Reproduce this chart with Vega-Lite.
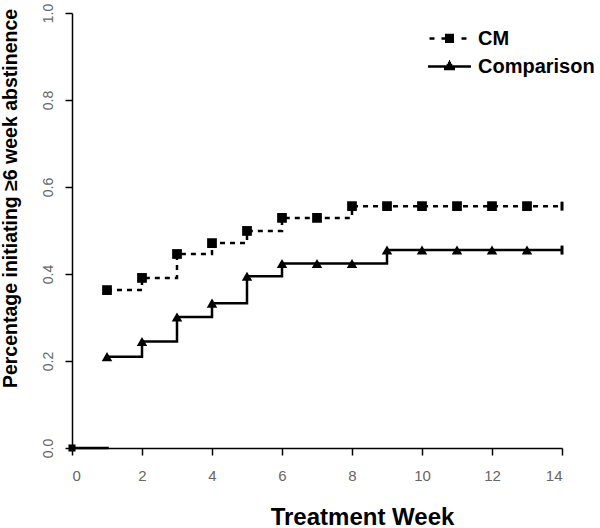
{
  "$schema": "https://vega.github.io/schema/vega-lite/v6.json",
  "width": 490,
  "height": 435,
  "autosize": {"type": "none"},
  "padding": {"left": 72, "top": 13, "right": 38, "bottom": 80},
  "background": "white",
  "config": {
    "view": {"stroke": null},
    "axis": {
      "grid": false,
      "domainColor": "black",
      "tickColor": "black",
      "domainWidth": 1.5,
      "tickWidth": 1.5,
      "labelFont": "Liberation Sans",
      "labelColor": "#666666",
      "titleFont": "Liberation Sans",
      "titleColor": "black"
    }
  },
  "datasets": {
    "main": [
      {"series": "CM", "week": 1, "value": 0.363},
      {"series": "CM", "week": 2, "value": 0.391},
      {"series": "CM", "week": 3, "value": 0.446},
      {"series": "CM", "week": 4, "value": 0.471},
      {"series": "CM", "week": 5, "value": 0.499},
      {"series": "CM", "week": 6, "value": 0.529},
      {"series": "CM", "week": 7, "value": 0.529},
      {"series": "CM", "week": 8, "value": 0.556},
      {"series": "CM", "week": 9, "value": 0.556},
      {"series": "CM", "week": 10, "value": 0.556},
      {"series": "CM", "week": 11, "value": 0.556},
      {"series": "CM", "week": 12, "value": 0.556},
      {"series": "CM", "week": 13, "value": 0.556},
      {"series": "CM", "week": 14, "value": 0.556},
      {"series": "Comparison", "week": 1, "value": 0.21},
      {"series": "Comparison", "week": 2, "value": 0.245},
      {"series": "Comparison", "week": 3, "value": 0.301},
      {"series": "Comparison", "week": 4, "value": 0.333},
      {"series": "Comparison", "week": 5, "value": 0.395},
      {"series": "Comparison", "week": 6, "value": 0.424},
      {"series": "Comparison", "week": 7, "value": 0.424},
      {"series": "Comparison", "week": 8, "value": 0.424},
      {"series": "Comparison", "week": 9, "value": 0.455},
      {"series": "Comparison", "week": 10, "value": 0.455},
      {"series": "Comparison", "week": 11, "value": 0.455},
      {"series": "Comparison", "week": 12, "value": 0.455},
      {"series": "Comparison", "week": 13, "value": 0.455},
      {"series": "Comparison", "week": 14, "value": 0.455}
    ],
    "start": [
      {"week": 0, "value": 0},
      {"week": 1.05, "value": 0}
    ]
  },
  "layer": [
    {
      "data": {"name": "start"},
      "mark": {"type": "line", "color": "black", "strokeWidth": 2.5},
      "encoding": {
        "x": {
          "field": "week",
          "type": "quantitative",
          "scale": {"domain": [0, 14], "nice": false, "zero": false},
          "axis": {
            "values": [0, 2, 4, 6, 8, 10, 12, 14],
            "tickSize": 7,
            "labelPadding": 13,
            "labelFontSize": 15,
            "title": "Treatment Week",
            "titleFontSize": 24,
            "titleFontWeight": "bold",
            "titleX": 290,
            "titleY": 76,
            "titleAlign": "center",
            "titleBaseline": "alphabetic"
          }
        },
        "y": {
          "field": "value",
          "type": "quantitative",
          "scale": {"domain": [0, 1], "nice": false},
          "axis": {
            "values": [0, 0.2, 0.4, 0.6, 0.8, 1],
            "format": ".1f",
            "tickSize": 7,
            "labelAngle": -90,
            "labelAlign": "center",
            "labelBaseline": "middle",
            "labelPadding": 17,
            "labelFontSize": 14,
            "title": "Percentage initiating ≥6 week abstinence",
            "titleFontSize": 19.5,
            "titleFontWeight": "bold",
            "titleAngle": -90,
            "titleX": -62,
            "titleY": 185,
            "titleAlign": "center",
            "titleBaseline": "middle"
          }
        }
      }
    },
    {
      "data": {"name": "start"},
      "transform": [{"filter": "datum.week == 0"}],
      "mark": {"type": "square", "color": "black", "filled": true, "size": 50, "opacity": 1},
      "encoding": {
        "x": {"field": "week", "type": "quantitative"},
        "y": {"field": "value", "type": "quantitative"}
      }
    },
    {
      "data": {"name": "main"},
      "transform": [{"filter": "datum.series == 'CM'"}],
      "mark": {"type": "line", "interpolate": "step-after", "color": "black", "strokeWidth": 2.5, "strokeDash": [5, 5]},
      "encoding": {
        "x": {"field": "week", "type": "quantitative"},
        "y": {"field": "value", "type": "quantitative"}
      }
    },
    {
      "data": {"name": "main"},
      "transform": [{"filter": "datum.series == 'Comparison'"}],
      "mark": {"type": "line", "interpolate": "step-after", "color": "black", "strokeWidth": 2.5},
      "encoding": {
        "x": {"field": "week", "type": "quantitative"},
        "y": {"field": "value", "type": "quantitative"}
      }
    },
    {
      "data": {"name": "main"},
      "transform": [{"filter": "datum.series == 'CM' && datum.week < 14"}],
      "mark": {"type": "point", "shape": "square", "filled": true, "color": "black", "opacity": 1, "size": 95},
      "encoding": {
        "x": {"field": "week", "type": "quantitative"},
        "y": {"field": "value", "type": "quantitative"}
      }
    },
    {
      "data": {"name": "main"},
      "transform": [{"filter": "datum.series == 'Comparison' && datum.week < 14"}],
      "mark": {"type": "point", "shape": "triangle-up", "filled": true, "color": "black", "opacity": 1, "size": 110},
      "encoding": {
        "x": {"field": "week", "type": "quantitative"},
        "y": {"field": "value", "type": "quantitative"}
      }
    },
    {
      "data": {"name": "main"},
      "transform": [{"filter": "datum.week == 14"}],
      "mark": {"type": "tick", "orient": "vertical", "color": "black", "size": 9, "thickness": 3, "opacity": 1},
      "encoding": {
        "x": {"field": "week", "type": "quantitative"},
        "y": {"field": "value", "type": "quantitative"}
      }
    },
    {
      "data": {"name": "main"},
      "transform": [{"filter": "datum.week > 100"}],
      "mark": {"type": "point", "filled": false, "color": "black", "opacity": 1, "strokeWidth": 2.5},
      "encoding": {
        "x": {"field": "week", "type": "quantitative"},
        "y": {"field": "value", "type": "quantitative"},
        "shape": {
          "field": "series",
          "type": "nominal",
          "scale": {
            "domain": ["CM", "Comparison"],
            "range": [
              "M-2,0H-1.5M-0.8,0H-0.45M-0.45,-0.34H0.45M-0.45,-0.12H0.45M-0.45,0.11H0.45M-0.45,0.33H0.45M1.2,0H1.7",
              "M-2.15,0H2.15M-0.55,0.25H0.55M-0.42,0.05H0.42M-0.28,-0.15H0.28M-0.15,-0.35H0.15M-0.05,-0.52H0.05"
            ]
          },
          "legend": {
            "title": null,
            "orient": "none",
            "legendX": 366,
            "legendY": 14,
            "padding": 0,
            "labelFont": "Liberation Sans",
            "labelFontSize": 20,
            "labelFontWeight": "bold",
            "labelColor": "black",
            "labelOffset": 17,
            "rowPadding": 6,
            "symbolSize": 400,
            "symbolFillColor": "transparent",
            "symbolStrokeColor": "black",
            "symbolStrokeWidth": 2.5,
            "symbolOpacity": 1
          }
        }
      }
    }
  ]
}
